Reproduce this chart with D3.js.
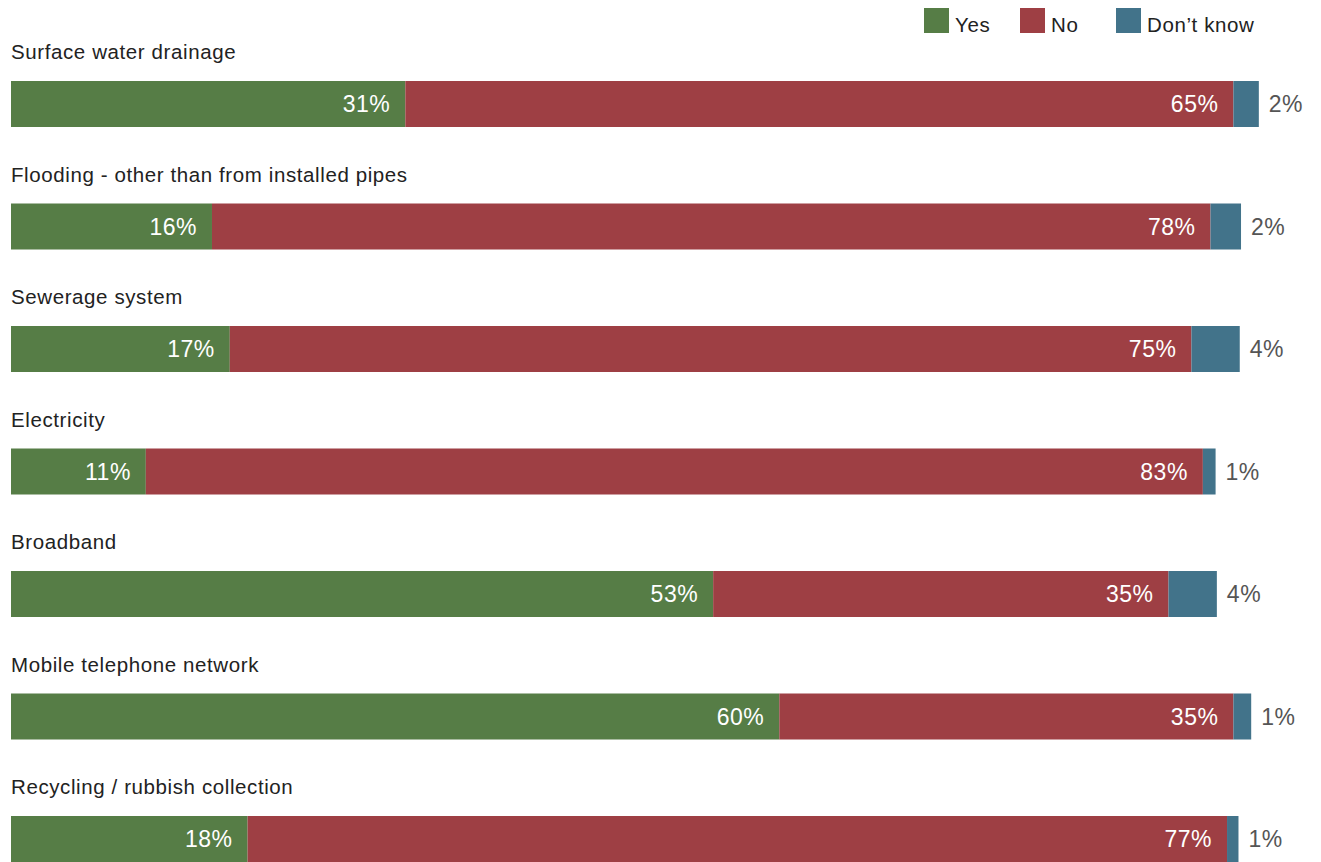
<!DOCTYPE html>
<html>
<head>
<meta charset="utf-8">
<script src="https://cdn.jsdelivr.net/npm/d3@7"></script>
<style>
  body { margin: 0; background: #fff; }
  text { font-family: "Liberation Sans", Arial, Helvetica, sans-serif; }
</style>
</head>
<body>
<div id="chart"></div>
<script>
////////////////////////////////////////////////////////////////////////
// Data

const categories = [
  "Surface water drainage",
  "Flooding - other than from installed pipes",
  "Sewerage system",
  "Electricity",
  "Broadband",
  "Mobile telephone network",
  "Recycling / rubbish collection"
];

// segment shares as drawn (percent)
const yesValues = [31.0, 15.8, 17.2, 10.6, 55.2, 60.4, 18.6];
const noValues  = [65.1, 78.5, 75.6, 83.1, 35.8, 35.7, 77.0];
const dkValues  = [2.0, 2.4, 3.8, 1.0, 3.8, 1.4, 0.9];

// printed labels
const yesLabels = [31, 16, 17, 11, 53, 60, 18];
const noLabels  = [65, 78, 75, 83, 35, 35, 77];
const dkLabels  = [2, 2, 4, 1, 4, 1, 1];

const seriesNames = ["Yes", "No", "Don\u2019t know"];
const seriesColors = ["#567d46", "#9e3f44", "#42738a"];

////////////////////////////////////////////////////////////////////////
// Layout

const width = 1321, height = 862;
const barH = 46;

const svg = d3.select("#chart").append("svg")
  .attr("width", width)
  .attr("height", height);

const xScale = d3.scaleLinear()
  .domain([0, 100])
  .range([11, 11 + 1272]);

const yScale = d3.scaleBand()
  .domain(categories)
  .range([81, 81 + categories.length * 122.5]);

// build rows
const rows = categories.map((c, i) => {
  const vals = [yesValues[i], noValues[i], dkValues[i]];
  const labs = [yesLabels[i], noLabels[i], dkLabels[i]];
  let acc = 0;
  const segs = vals.map((v, k) => {
    const s = { key: k, x0: acc, x1: acc + v, label: labs[k] };
    acc += v;
    return s;
  });
  return { cat: c, segs: segs };
});

const row = svg.selectAll(".row")
  .data(rows)
  .join("g")
  .attr("class", "row")
  .attr("transform", d => `translate(0, ${yScale(d.cat)})`);

// category labels
row.append("text")
  .attr("x", 11)
  .attr("y", -22)
  .attr("font-size", 20.5)
  .attr("letter-spacing", 0.6)
  .attr("fill", "#222")
  .text(d => d.cat);

// segments
row.selectAll("rect")
  .data(d => d.segs)
  .join("rect")
  .attr("x", d => xScale(d.x0))
  .attr("y", 0)
  .attr("width", d => xScale(d.x1) - xScale(d.x0))
  .attr("height", barH)
  .attr("fill", d => seriesColors[d.key]);

// value labels: white inside for yes/no, grey outside for don't know
row.selectAll(".val")
  .data(d => d.segs)
  .join("text")
  .attr("class", "val")
  .attr("x", d => d.key < 2 ? xScale(d.x1) - 15 : xScale(d.x1) + 10)
  .attr("y", barH / 2 + 8)
  .attr("text-anchor", d => d.key < 2 ? "end" : "start")
  .attr("font-size", 23)
  .attr("letter-spacing", 0.5)
  .attr("fill", d => d.key < 2 ? "#fff" : "#555")
  .text(d => d.label + "%");

////////////////////////////////////////////////////////////////////////
// Legend

const legendX = [924, 1020, 1116];
const legend = svg.selectAll(".legend")
  .data(seriesNames)
  .join("g")
  .attr("class", "legend")
  .attr("transform", (d, i) => `translate(${legendX[i]}, 8)`);

legend.append("rect")
  .attr("width", 25)
  .attr("height", 25)
  .attr("fill", (d, i) => seriesColors[i]);

legend.append("text")
  .attr("x", 31)
  .attr("y", 24)
  .attr("font-size", 20.5)
  .attr("letter-spacing", 0.6)
  .attr("fill", "#222")
  .text(d => d);
</script>
</body>
</html>
